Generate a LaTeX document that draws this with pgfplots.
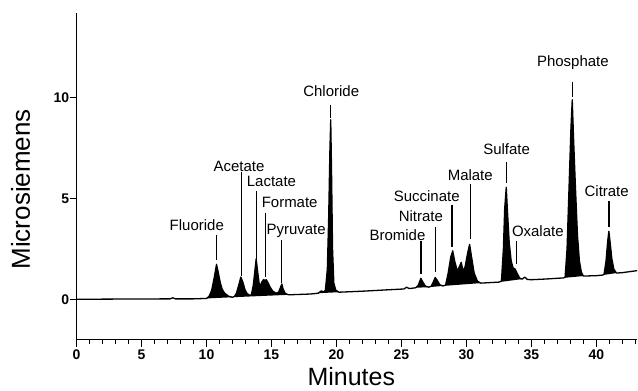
\documentclass[border=0pt]{standalone}
\usepackage{fontspec}
\setmainfont{Liberation Sans}
\usepackage{pgfplots}
\pgfplotsset{compat=1.18}
\usepackage{pgfplotstable}

\pgfplotstableread{
t y
0 0
7.2 0.02
7.4 0.07
7.6 0.02
9.0 0.02
10.0 0.04
10.2 0.15
10.4 0.45
10.6 1.1
10.77 1.73
10.9 1.35
11.05 0.85
11.2 0.5
11.4 0.3
11.7 0.15
12.0 0.1
12.15 0.14
12.3 0.3
12.5 0.75
12.64 1.1
12.8 0.85
12.95 0.5
13.1 0.3
13.3 0.2
13.45 0.22
13.6 0.7
13.72 1.4
13.82 2.0
13.95 1.3
14.05 0.8
14.15 0.65
14.25 0.85
14.4 0.98
14.5 0.92
14.6 0.97
14.75 0.8
14.9 0.6
15.1 0.4
15.35 0.3
15.55 0.35
15.7 0.6
15.8 0.76
15.9 0.5
16.05 0.3
16.3 0.22
18.0 0.26
18.6 0.3
18.85 0.42
19.0 0.35
19.15 0.45
19.3 1.5
19.4 4.0
19.5 7.5
19.56 8.9
19.62 6.5
19.7 2.5
19.8 0.8
19.95 0.45
20.2 0.35
22.0 0.4
24.0 0.47
25.2 0.51
25.4 0.6
25.6 0.53
26.1 0.57
26.3 0.7
26.5 1.04
26.65 0.85
26.85 0.65
27.1 0.6
27.3 0.65
27.45 0.85
27.6 1.08
27.75 0.95
27.95 0.72
28.2 0.66
28.4 0.7
28.6 1.3
28.8 2.1
28.95 2.4
29.1 1.9
29.3 1.4
29.45 1.6
29.6 1.83
29.75 1.4
29.9 1.6
30.1 2.3
30.25 2.72
30.4 2.1
30.6 1.3
30.85 0.9
31.1 0.8
32.5 0.85
32.7 0.9
32.85 2.5
32.95 4.5
33.07 5.55
33.17 4.3
33.3 2.8
33.45 1.9
33.6 1.55
33.75 1.5
33.9 1.3
34.1 1.05
34.3 1.0
34.5 1.1
34.7 0.98
35.0 0.97
36.0 1.0
37.5 1.06
37.6 1.1
37.75 2.5
37.9 5.5
38.05 8.5
38.15 9.9
38.25 8.0
38.4 5.5
38.55 3.2
38.7 1.9
38.85 1.35
39.0 1.15
40.0 1.17
40.5 1.2
40.6 1.25
40.75 1.9
40.88 2.9
40.97 3.37
41.07 2.8
41.2 2.0
41.35 1.5
41.55 1.3
42.0 1.32
43.15 1.42
}\sig

\begin{document}
\begin{tikzpicture}
\begin{axis}[
  at={(0,0)}, anchor=south west,
  scale only axis, width=561.3pt, height=327pt,
  xmin=0, xmax=43.15, ymin=-2, ymax=14.2,
  axis lines=left,
  axis line style={line width=1.6pt, -},
  xtick={0,5,...,40}, minor xtick={0,1,...,43},
  ytick={0,5,10},
  tick align=outside,
  major tick length=7pt, minor tick length=4pt,
  tick style={line width=0.9pt, black},
  /pgf/number format/assume math mode=true,
  ticklabel style={font=\bfseries\fontsize{14}{14}\selectfont},
  yticklabel style={xshift=3pt},
  xlabel={Minutes}, ylabel={Microsiemens},
  xlabel style={at={(axis description cs:0.49,-0.113)}, anchor=center, font=\fontsize{25}{25}\selectfont},
  ylabel style={at={(axis description cs:-0.1,0.46)}, anchor=center, font=\fontsize{26}{26}\selectfont},
  every axis plot/.append style={line join=round},
]
\addplot[fill=black, draw=none, restrict x to domain=10.0:12.0] table {\sig} -- cycle;
\addplot[fill=black, draw=none, restrict x to domain=12.0:16.3] table {\sig} -- cycle;
\addplot[fill=black, draw=none, restrict x to domain=18.6:20.2] table {\sig} -- cycle;
\addplot[fill=black, draw=none, restrict x to domain=26.1:27.1] table {\sig} -- cycle;
\addplot[fill=black, draw=none, restrict x to domain=27.1:28.2] table {\sig} -- cycle;
\addplot[fill=black, draw=none, restrict x to domain=28.2:31.1] table {\sig} -- cycle;
\addplot[fill=black, draw=none, restrict x to domain=32.5:34.3] table {\sig} -- cycle;
\addplot[fill=black, draw=none, restrict x to domain=37.5:39.0] table {\sig} -- cycle;
\addplot[fill=black, draw=none, restrict x to domain=40.5:41.55] table {\sig} -- cycle;
\addplot[black, line width=1.3pt] table {\sig};

\begin{scope}[every node/.style={font=\fontsize{15}{15}\selectfont, inner sep=0pt}]
\node at (axis cs:9.25,3.66) {Fluoride};
\draw[line width=1.3pt] (axis cs:10.77,3.2) -- (axis cs:10.77,1.95);
\node at (axis cs:12.5,6.6) {Acetate};
\draw[line width=1.3pt] (axis cs:12.7,6.3) -- (axis cs:12.7,1.15);
\node at (axis cs:15.0,5.85) {Lactate};
\draw[line width=1.3pt] (axis cs:13.85,5.35) -- (axis cs:13.85,1.9);
\node at (axis cs:16.4,4.8) {Formate};
\draw[line width=1.3pt] (axis cs:14.55,4.3) -- (axis cs:14.55,1.1);
\node at (axis cs:16.9,3.4) {Pyruvate};
\draw[line width=1.3pt] (axis cs:15.75,2.95) -- (axis cs:15.75,0.8);
\node at (axis cs:19.6,10.3) {Chloride};
\draw[line width=1.3pt] (axis cs:19.56,9.65) -- (axis cs:19.56,9.0);
\node at (axis cs:24.7,3.2) {Bromide};
\draw[line width=1.3pt] (axis cs:26.5,2.9) -- (axis cs:26.5,1.25);
\node at (axis cs:26.5,4.1) {Nitrate};
\draw[line width=1.3pt] (axis cs:27.6,3.6) -- (axis cs:27.6,1.33);
\node at (axis cs:26.95,5.1) {Succinate};
\draw[line width=1.3pt] (axis cs:28.9,4.7) -- (axis cs:28.9,2.6);
\node at (axis cs:30.3,6.14) {Malate};
\draw[line width=1.3pt] (axis cs:30.3,5.7) -- (axis cs:30.3,2.97);
\node at (axis cs:33.1,7.43) {Sulfate};
\draw[line width=1.3pt] (axis cs:33.07,6.8) -- (axis cs:33.07,5.75);
\node at (axis cs:35.5,3.37) {Oxalate};
\draw[line width=1.3pt] (axis cs:33.85,2.9) -- (axis cs:33.85,1.73);
\node at (axis cs:38.2,11.73) {Phosphate};
\draw[line width=1.3pt] (axis cs:38.15,10.8) -- (axis cs:38.15,10.05);
\node at (axis cs:40.8,5.35) {Citrate};
\draw[line width=1.3pt] (axis cs:40.97,4.85) -- (axis cs:40.97,3.56);
\end{scope}
\end{axis}
\path[use as bounding box] (-76.7pt,-51pt) rectangle (561.3pt,340pt);
\end{tikzpicture}
\end{document}
